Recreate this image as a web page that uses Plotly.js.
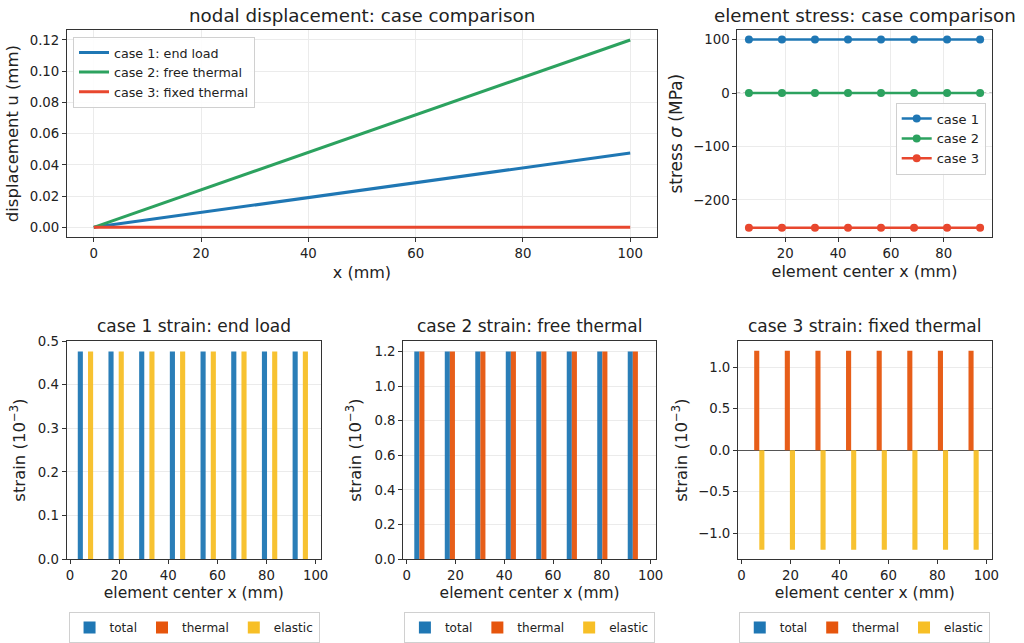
<!DOCTYPE html>
<html>
<head>
<meta charset="utf-8">
<script src="https://cdn.plot.ly/plotly-3.0.1.min.js"></script>
<style>html,body{margin:0;padding:0;background:#fff;}#chart{width:1024px;height:643px;}</style>
</head>
<body>
<div id="chart"></div>
<script>
// ---- data ----
const xNodes = [0, 12.5, 25, 37.5, 50, 62.5, 75, 87.5, 100];
const uCase1 = [0, 0.00595, 0.0119, 0.01786, 0.02381, 0.02976, 0.03571, 0.04167, 0.04762];
const uCase2 = [0, 0.015, 0.03, 0.045, 0.06, 0.075, 0.09, 0.105, 0.12];
const uCase3 = [0, 0, 0, 0, 0, 0, 0, 0, 0];
const dispNames = ["case 1: end load", "case 2: free thermal", "case 3: fixed thermal"];

const xElem = [6.25, 18.75, 31.25, 43.75, 56.25, 68.75, 81.25, 93.75];
const sCase1 = [100, 100, 100, 100, 100, 100, 100, 100];
const sCase2 = [0, 0, 0, 0, 0, 0, 0, 0];
const sCase3 = [-252, -252, -252, -252, -252, -252, -252, -252];
const stressNames = ["case 1", "case 2", "case 3"];

const strainNames = ["total", "thermal", "elastic"];
const c1Total = [0.476, 0.476, 0.476, 0.476, 0.476, 0.476, 0.476, 0.476];
const c1Thermal = [0, 0, 0, 0, 0, 0, 0, 0];
const c1Elastic = [0.476, 0.476, 0.476, 0.476, 0.476, 0.476, 0.476, 0.476];
const c2Total = [1.2, 1.2, 1.2, 1.2, 1.2, 1.2, 1.2, 1.2];
const c2Thermal = [1.2, 1.2, 1.2, 1.2, 1.2, 1.2, 1.2, 1.2];
const c2Elastic = [0, 0, 0, 0, 0, 0, 0, 0];
const c3Total = [0, 0, 0, 0, 0, 0, 0, 0];
const c3Thermal = [1.2, 1.2, 1.2, 1.2, 1.2, 1.2, 1.2, 1.2];
const c3Elastic = [-1.2, -1.2, -1.2, -1.2, -1.2, -1.2, -1.2, -1.2];

const titles = ["nodal displacement: case comparison", "element stress: case comparison",
  "case 1 strain: end load", "case 2 strain: free thermal", "case 3 strain: fixed thermal"];

// ---- styles ----
const caseColors = ["#1f77b4", "#2ca25f", "#e8472e"];
const strainColors = ["#1f77b4", "#e6550d", "#f7bf26"];
const FONT = "DejaVu Sans, Verdana, sans-serif";

const traces = [];
[uCase1, uCase2, uCase3].forEach((u, i) => traces.push({
  type: "scatter", mode: "lines", x: xNodes, y: u, name: dispNames[i],
  line: {color: caseColors[i], width: 3}, xaxis: "x", yaxis: "y", legend: "legend"
}));
[sCase1, sCase2, sCase3].forEach((s, i) => traces.push({
  type: "scatter", mode: "lines+markers", x: xElem, y: s, name: stressNames[i],
  line: {color: caseColors[i], width: 2.5}, marker: {color: caseColors[i], size: 8},
  xaxis: "x2", yaxis: "y2", legend: "legend2"
}));
const strainSets = [
  [c1Total, c1Thermal, c1Elastic, "x3", "y3", "legend3"],
  [c2Total, c2Thermal, c2Elastic, "x4", "y4", "legend4"],
  [c3Total, c3Thermal, c3Elastic, "x5", "y5", "legend5"]
];
strainSets.forEach(set => {
  for (let k = 0; k < 3; k++) {
    traces.push({
      type: "bar", x: xElem, y: set[k], name: strainNames[k],
      marker: {color: strainColors[k], opacity: 0.95, line: {width: 0}},
      xaxis: set[3], yaxis: set[4], legend: set[5]
    });
  }
});

function ax(extra) {
  return Object.assign({
    showline: true, mirror: true, linecolor: "#333", linewidth: 1,
    ticks: "outside", ticklen: 4, tickcolor: "#333",
    tickfont: {family: FONT, size: 13.3, color: "#222"},
    showgrid: true, gridcolor: "#ebebeb", gridwidth: 1,
    zeroline: false, automargin: false
  }, extra);
}
function atitle(t, standoff, size) {
  return {text: t, font: {family: FONT, size: size || 16, color: "#222"}, standoff: standoff};
}

const yTop = [0.630, 0.953];
const yBot = [0.1275, 0.468];

const legBox = {bgcolor: "rgba(255,255,255,0.9)", bordercolor: "#d0d0d0", borderwidth: 1};
const botLeg = (xc) => Object.assign({orientation: "h", x: xc, y: 0.0445, xanchor: "center", yanchor: "top",
  itemwidth: 30, font: {family: FONT, size: 12, color: "#222"}}, legBox);

const layout = {
  width: 1024, height: 643,
  margin: {l: 0, r: 0, t: 0, b: 0},
  paper_bgcolor: "#fff", plot_bgcolor: "#fff",
  font: {family: FONT, color: "#222"},
  barmode: "group", bargap: 0.5, bargroupgap: 0,
  xaxis: ax({domain: [0.0654, 0.6416], anchor: "y", range: [-5, 105], dtick: 20, tick0: 0,
    title: atitle("x (mm)", 6)}),
  yaxis: ax({domain: yTop, anchor: "x", range: [-0.0063, 0.1263], dtick: 0.02, tick0: 0, tickformat: ".2f",
    title: atitle("displacement u (mm)", 6, 16.5)}),
  xaxis2: ax({domain: [0.7200, 0.9685], anchor: "y2", range: [1.85, 98.15], dtick: 20, tick0: 0,
    title: atitle("element center x (mm)", 5)}),
  yaxis2: ax({domain: yTop, anchor: "x2", range: [-269.6, 117.6], dtick: 100, tick0: 0,
    title: atitle("stress <i>σ</i> (MPa)", 6, 17)}),
  xaxis3: ax({domain: [0.0651, 0.3135], anchor: "y3", range: [-1.4, 102.2], dtick: 20, tick0: 0, showgrid: false,
    title: atitle("element center x (mm)", 4, 15.5)}),
  yaxis3: ax({domain: yBot, anchor: "x3", range: [0, 0.5], dtick: 0.1, tick0: 0, tickformat: ".1f",
    title: atitle("strain (10<sup>−3</sup>)", 8, 16.5)}),
  xaxis4: ax({domain: [0.3938, 0.6406], anchor: "y4", range: [-1.4, 102.2], dtick: 20, tick0: 0, showgrid: false,
    title: atitle("element center x (mm)", 4, 15.5)}),
  yaxis4: ax({domain: yBot, anchor: "x4", range: [0, 1.26], dtick: 0.2, tick0: 0, tickformat: ".1f",
    title: atitle("strain (10<sup>−3</sup>)", 8, 16.5)}),
  xaxis5: ax({domain: [0.7207, 0.9685], anchor: "y5", range: [-1.4, 102.2], dtick: 20, tick0: 0, showgrid: false,
    title: atitle("element center x (mm)", 4, 15.5)}),
  yaxis5: ax({domain: yBot, anchor: "x5", range: [-1.316, 1.316], dtick: 0.5, tick0: 0, tickformat: ".1f",
    zeroline: true, zerolinecolor: "#555", zerolinewidth: 1.2,
    title: atitle("strain (10<sup>−3</sup>)", 6, 16.5)}),
  showlegend: true,
  legend: Object.assign({x: 0.0713, y: 0.9425, xanchor: "left", yanchor: "top", itemwidth: 30,
    font: {family: FONT, size: 12.7, color: "#222"}, tracegroupgap: 0}, legBox),
  legend2: Object.assign({x: 0.9626, y: 0.84, xanchor: "right", yanchor: "top", itemwidth: 30,
    font: {family: FONT, size: 13, color: "#222"}}, legBox),
  legend3: botLeg(0.1895),
  legend4: botLeg(0.517),
  legend5: botLeg(0.844),
  shapes: [
    {type: "line", xref: "x2 domain", yref: "y2", x0: 0, x1: 1, y0: 0, y1: 0,
      line: {color: "#888", width: 1, dash: "dot"}, layer: "below"}
  ],
  annotations: [
    {text: titles[0], xref: "paper", yref: "paper", x: (0.0654 + 0.6416) / 2, y: 0.957, xanchor: "center", yanchor: "bottom", showarrow: false, font: {family: FONT, size: 18.3, color: "#222"}},
    {text: titles[1], xref: "paper", yref: "paper", x: (0.7200 + 0.9685) / 2, y: 0.957, xanchor: "center", yanchor: "bottom", showarrow: false, font: {family: FONT, size: 18.3, color: "#222"}},
    {text: titles[2], xref: "paper", yref: "paper", x: (0.0651 + 0.3135) / 2, y: 0.473, xanchor: "center", yanchor: "bottom", showarrow: false, font: {family: FONT, size: 17, color: "#222"}},
    {text: titles[3], xref: "paper", yref: "paper", x: (0.3938 + 0.6406) / 2, y: 0.473, xanchor: "center", yanchor: "bottom", showarrow: false, font: {family: FONT, size: 17, color: "#222"}},
    {text: titles[4], xref: "paper", yref: "paper", x: (0.7207 + 0.9685) / 2, y: 0.473, xanchor: "center", yanchor: "bottom", showarrow: false, font: {family: FONT, size: 17, color: "#222"}}
  ]
};

Plotly.newPlot("chart", traces, layout, {displayModeBar: false, staticPlot: true});
</script>
</body>
</html>
